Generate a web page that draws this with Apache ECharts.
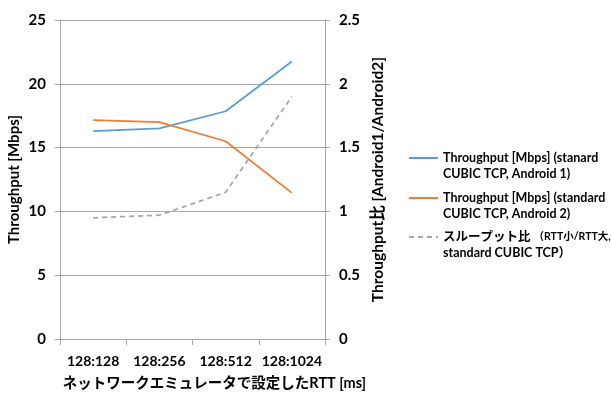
<!DOCTYPE html>
<html>
<head>
<meta charset="utf-8">
<script src="https://cdn.jsdelivr.net/npm/echarts@6/dist/echarts.min.js"></script>
<style>html,body{margin:0;padding:0;background:#fff;}#c{width:612px;height:397px;}</style>
</head>
<body>
<div id="c"></div>
<script>
const categories = ['128:128', '128:256', '128:512', '128:1024'];
const android1 = [16.3, 16.5, 17.85, 21.75];
const android2 = [17.15, 17.0, 15.5, 11.45];
const ratio = [0.95, 0.97, 1.15, 1.9];
const leftTicks = [0, 5, 10, 15, 20, 25];
const rightTicks = [0, 0.5, 1, 1.5, 2, 2.5];
const names = [
  'Throughput [Mbps] (stanard\nCUBIC TCP, Android 1)',
  'Throughput [Mbps] (standard\nCUBIC TCP, Android 2)',
  'スループット比 （RTT小/RTT大,\nstandard CUBIC TCP）'
];

const FONT = 'Lato, "Noto Sans CJK JP", sans-serif';
const gridColor = '#a8a8a8';
const L = 16;
const chart = echarts.init(document.getElementById('c'));

function legendFor(i, lineY) {
  const lg = {
    data: [names[i]],
    left: 408,
    top: lineY - 1.5 * L,
    orient: 'vertical',
    itemWidth: 29,
    itemHeight: 10,
    padding: 0,
    itemStyle: { opacity: 0 },
    textStyle: {
      fontFamily: FONT, fontWeight: 'bold', fontSize: 12.5, color: '#000',
      lineHeight: L, padding: [L, 0, 0, 0],
      rich: {
        b: { fontFamily: FONT, fontWeight: 'bold', fontSize: 12.5, color: '#000', lineHeight: L },
        s: { fontFamily: FONT, fontWeight: 'bold', fontSize: 10.5, color: '#000', lineHeight: L }
      }
    }
  };
  if (i === 2) {
    lg.formatter = function (name) {
      const parts = name.split('\n');
      const first = parts[0];
      const k = first.indexOf('（');
      return '{b|' + first.slice(0, k) + '}{s|' + first.slice(k) + '}\n{b|' + parts[1] + '}';
    };
  }
  return lg;
}

chart.setOption({
  animation: false,
  textStyle: { fontFamily: FONT },
  grid: { left: 60, right: 287, top: 20, bottom: 58, containLabel: false },
  legend: [legendFor(0, 158), legendFor(1, 198), legendFor(2, 237)],
  xAxis: {
    type: 'category',
    data: categories,
    boundaryGap: true,
    name: 'ネットワークエミュレータで設定したRTT [ms]',
    nameLocation: 'middle',
    nameGap: 37,
    nameTextStyle: { fontFamily: FONT, fontWeight: 'bold', fontSize: 14.5, color: '#000', padding: [0, 0, 0, 44] },
    axisLine: { lineStyle: { color: gridColor, width: 1 } },
    axisTick: { show: true, length: 6, lineStyle: { color: gridColor } },
    axisLabel: { interval: 0, fontFamily: FONT, fontWeight: 'bold', fontSize: 14, color: '#000', margin: 15 }
  },
  yAxis: [
    {
      type: 'value', min: 0, max: 25, interval: 5,
      name: 'Throughput [Mbps]', nameLocation: 'middle', nameGap: 38, nameRotate: 90,
      nameTextStyle: { fontFamily: FONT, fontWeight: 'bold', fontSize: 15, color: '#000' },
      axisLine: { show: true, lineStyle: { color: gridColor } },
      axisTick: { show: true, length: 5, lineStyle: { color: gridColor } },
      splitLine: { show: true, lineStyle: { color: gridColor } },
      axisLabel: { fontFamily: FONT, fontWeight: 'bold', fontSize: 15, color: '#000', margin: 14 }
    },
    {
      type: 'value', min: 0, max: 2.5, interval: 0.5, position: 'right',
      name: 'Throughput比 [Android1/Android2]', nameLocation: 'middle', nameGap: 45, nameRotate: 90,
      nameTextStyle: { fontFamily: FONT, fontWeight: 'bold', fontSize: 15.5, color: '#000' },
      axisLine: { show: true, lineStyle: { color: gridColor } },
      axisTick: { show: true, length: 5, lineStyle: { color: gridColor } },
      splitLine: { show: false },
      axisLabel: { fontFamily: FONT, fontWeight: 'bold', fontSize: 15, color: '#000', margin: 14 }
    }
  ],
  series: [
    { name: names[0], type: 'line', data: android1, yAxisIndex: 0, symbol: 'none',
      lineStyle: { color: '#5b9bd5', width: 1.75 }, itemStyle: { color: '#5b9bd5' } },
    { name: names[1], type: 'line', data: android2, yAxisIndex: 0, symbol: 'none',
      lineStyle: { color: '#ed7d31', width: 1.75 }, itemStyle: { color: '#ed7d31' } },
    { name: names[2], type: 'line', data: ratio, yAxisIndex: 1, symbol: 'none',
      lineStyle: { color: '#a5a5a5', width: 1.75, type: [5, 4] }, itemStyle: { color: '#a5a5a5' } }
  ]
});
</script>
</body>
</html>
